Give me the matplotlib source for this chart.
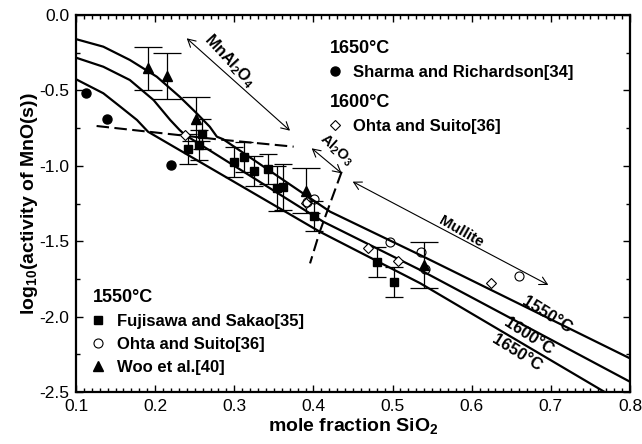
import matplotlib
matplotlib.use('Agg')
import matplotlib.pyplot as plt
from matplotlib.ticker import MultipleLocator

plt.rcParams['font.family'] = 'Liberation Sans'
plt.rcParams['mathtext.fontset'] = 'custom'
plt.rcParams['mathtext.rm'] = 'Liberation Sans'
plt.rcParams['mathtext.bf'] = 'Liberation Sans:bold'
plt.rcParams['axes.unicode_minus'] = False

# calculated iso-activity curves
x_1550 = [0.100, 0.1345, 0.168, 0.202, 0.231, 0.2525, 0.269, 0.278, 0.286, 0.421, 0.535, 0.800]
y_1550 = [-0.160, -0.210, -0.298, -0.409, -0.542, -0.652, -0.741, -0.807, -0.824, -1.304, -1.592, -2.277]
x_1600 = [0.100, 0.1345, 0.168, 0.198, 0.219, 0.231, 0.238, 0.4125, 0.535, 0.800]
y_1600 = [-0.283, -0.343, -0.431, -0.564, -0.696, -0.763, -0.796, -1.371, -1.691, -2.432]
x_1650 = [0.100, 0.1345, 0.156, 0.177, 0.191, 0.408, 0.535, 0.768]
y_1650 = [-0.426, -0.519, -0.608, -0.696, -0.774, -1.437, -1.779, -2.500]

# phase boundaries (dashed)
bnd1_x = [0.126, 0.278, 0.375]
bnd1_y = [-0.736, -0.824, -0.873]
bnd2_x = [0.4357, 0.408, 0.3957]
bnd2_y = [-1.039, -1.437, -1.647]

# measured data
sharma_x = [0.113, 0.139, 0.220]
sharma_y = [-0.515, -0.690, -0.995]

ohta1600_x = [0.238, 0.391, 0.469, 0.507, 0.625]
ohta1600_y = [-0.796, -1.245, -1.543, -1.631, -1.780]

fuji_x = [0.241, 0.256, 0.259, 0.2997, 0.312, 0.325, 0.342, 0.354, 0.362, 0.401, 0.480, 0.502]
fuji_y = [-0.891, -0.862, -0.789, -0.973, -0.940, -1.032, -1.023, -1.150, -1.140, -1.331, -1.636, -1.768]
fuji_err = [0.10, 0.10, 0.10, 0.10, 0.10, 0.10, 0.10, 0.15, 0.15, 0.10, 0.10, 0.10]

ohta1550_x = [0.392, 0.401, 0.497, 0.536, 0.541, 0.660]
ohta1550_y = [-1.238, -1.222, -1.507, -1.574, -1.686, -1.730]

woo_x = [0.191, 0.215, 0.252, 0.391, 0.540]
woo_y = [-0.354, -0.405, -0.692, -1.165, -1.658]
woo_err = [0.145, 0.150, 0.145, 0.150, 0.150]

fig = plt.figure(figsize=(6.42, 4.44), dpi=100)
ax = fig.add_axes([0.1184, 0.1171, 0.8629, 0.8491])

for xs, ys in [(x_1550, y_1550), (x_1600, y_1600), (x_1650, y_1650)]:
    ax.plot(xs, ys, color='black', lw=1.6, zorder=3)

ax.plot(bnd1_x, bnd1_y, color='black', lw=1.5, ls=(0, (6, 2.6)), zorder=3)
ax.plot(bnd2_x, bnd2_y, color='black', lw=1.5, ls=(0, (6, 2.6)), zorder=3)

ax.errorbar(fuji_x, fuji_y, yerr=fuji_err, fmt='none', ecolor='black', elinewidth=0.9, capsize=6.5, capthick=0.9, zorder=2)
ax.errorbar(woo_x, woo_y, yerr=woo_err, fmt='none', ecolor='black', elinewidth=0.9, capsize=10, capthick=0.9, zorder=2)

h_sharma, = ax.plot(sharma_x, sharma_y, 'o', color='black', ms=6.5, ls='none', zorder=4)
h_ohta16, = ax.plot(ohta1600_x, ohta1600_y, 'D', mfc='white', mec='black', mew=0.8, ms=5, ls='none', zorder=4)
h_fuji, = ax.plot(fuji_x, fuji_y, 's', color='black', ms=5.5, ls='none', zorder=4)
h_ohta15, = ax.plot(ohta1550_x, ohta1550_y, 'o', mfc='none', mec='black', mew=0.8, ms=6.5, ls='none', zorder=4)
h_woo, = ax.plot(woo_x, woo_y, '^', color='black', ms=7, ls='none', zorder=4)

# phase field arrows and labels
arw = dict(arrowstyle='<->,head_length=0.55,head_width=0.3', color='black', lw=0.8, shrinkA=0, shrinkB=0)
ax.annotate('', xy=(0.2399, -0.1545), xytext=(0.3704, -0.767), arrowprops=arw)
ax.annotate('', xy=(0.3978, -0.884), xytext=(0.4357, -1.050), arrowprops=arw)
ax.annotate('', xy=(0.4496, -1.105), xytext=(0.6968, -1.790), arrowprops=arw)

ax.text(0.294, -0.305, r'MnAl$_\mathbf{2}$O$_\mathbf{4}$', rotation=-47, fontsize=11.5, fontweight='bold', ha='center', va='center')
ax.text(0.4295, -0.895, r'Al$_\mathbf{2}$O$_\mathbf{3}$', rotation=-42, fontsize=10.5, fontweight='bold', ha='center', va='center')
ax.text(0.587, -1.435, 'Mullite', rotation=-30, fontsize=11, fontweight='bold', ha='center', va='center')

ax.text(0.695, -1.99, '1550°C', rotation=-32, fontsize=12, fontweight='bold', ha='center', va='center')
ax.text(0.6716, -2.133, '1600°C', rotation=-33, fontsize=12, fontweight='bold', ha='center', va='center')
ax.text(0.657, -2.243, '1650°C', rotation=-32, fontsize=12, fontweight='bold', ha='center', va='center')

# legends
leg_kw = dict(frameon=False, loc='upper left', alignment='left', borderpad=0, borderaxespad=0,
              handlelength=0.6, handletextpad=0.8, labelspacing=0.47,
              prop={'weight': 'bold', 'size': 12},
              title_fontproperties={'weight': 'bold', 'size': 13})
leg1 = ax.legend([h_sharma], ['Sharma and Richardson[34]'], title='1650°C', bbox_to_anchor=(0.4585, 0.933), **leg_kw)
ax.add_artist(leg1)
leg2 = ax.legend([h_ohta16], ['Ohta and Suito[36]'], title='1600°C', bbox_to_anchor=(0.4585, 0.790), **leg_kw)
ax.add_artist(leg2)
ax.legend([h_fuji, h_ohta15, h_woo], ['Fujisawa and Sakao[35]', 'Ohta and Suito[36]', 'Woo et al.[40]'],
          title='1550°C', bbox_to_anchor=(0.031, 0.272), **leg_kw)

ax.set_xlim(0.1, 0.8)
ax.set_ylim(-2.5, 0.0)
ax.xaxis.set_major_locator(MultipleLocator(0.1))
ax.xaxis.set_minor_locator(MultipleLocator(0.01))
ax.yaxis.set_major_locator(MultipleLocator(0.5))
ax.yaxis.set_minor_locator(MultipleLocator(0.25))
ax.xaxis.set_major_formatter(plt.FormatStrFormatter('%.1f'))
ax.yaxis.set_major_formatter(plt.FormatStrFormatter('%.1f'))
ax.tick_params(which='both', direction='in', top=True, right=True, width=1.0, labelsize=12.5)
ax.tick_params(which='major', length=5)
ax.tick_params(which='minor', length=3)
ax.tick_params(axis='x', pad=5)
ax.tick_params(axis='y', pad=5)
for s in ax.spines.values():
    s.set_linewidth(1.6)

ax.set_xlabel(r'mole fraction SiO$_\mathbf{2}$', fontsize=14, fontweight='bold', labelpad=2)
ax.set_ylabel(r'log$_\mathbf{10}$(activity of MnO(s))', fontsize=14, fontweight='bold', labelpad=-1)

fig.savefig('out.png', dpi=100)
